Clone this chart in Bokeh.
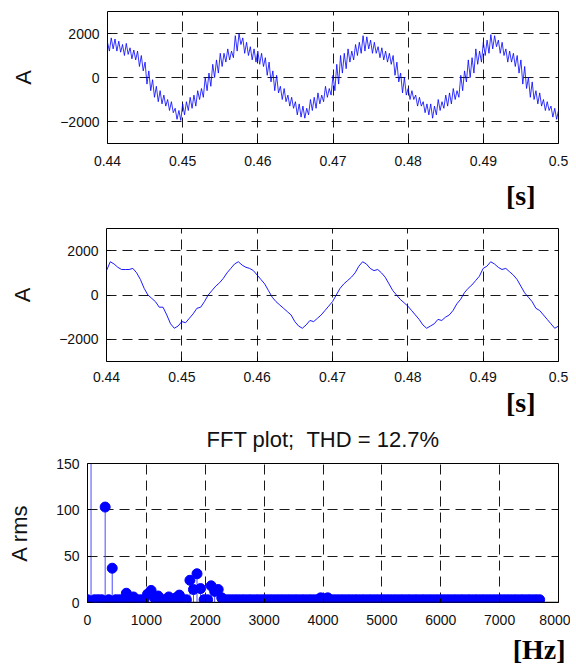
from bokeh.plotting import figure
from bokeh.models import Range1d, FixedTicker, Title, Span
from bokeh.layouts import column
from bokeh.embed import file_html
from bokeh.resources import INLINE

# ---------------- data ----------------
# unfiltered current, sampled every 0.25 ms from 0.44 s
t1_start, t1_step = 0.44, 0.00025
a1 = [
    1600, 1200, 1800, 1300, 1750, 1200, 1650, 1150, 1500, 1000, 1550, 1050,
    1350, 850, 1250, 800, 1200, 500, 1000, 300, 700, -300, 300, -600,
    -100, -900, -400, -1100, -600, -1200, -800, -1300, -1000, -1500, -1100, -1600,
    -1400, -1900, -1500, -1950, -1200, -1700, -1100, -1500, -900, -1400, -800, -1300,
    -600, -1000, -500, -900, 0, -600, 200, -400, 600, 0, 800, 200,
    1100, 500, 1100, 700, 1300, 800, 1200, 900, 1900, 1200, 2000, 1500,
    1800, 1100, 1600, 1000, 1400, 800, 1300, 700, 1200, 600, 1100, 500,
    900, 100, 700, -200, 300, -600, 100, -700, -400, -1000, -500, -1100,
    -800, -1300, -900, -1400, -1100, -1700, -1200, -1800, -1300, -1850, -1400, -1700,
    -1000, -1500, -900, -1400, -700, -1200, -800, -1100, -400, -900, -500, -800,
    100, -600, 600, -300, 1000, 200, 1100, 400, 1300, 700, 1200, 800,
    1500, 1000, 1600, 1100, 1900, 1200, 1850, 1300, 1700, 1100, 1600, 1100,
    1400, 900, 1350, 800, 1200, 700, 1100, 600, 1000, 100, 700, -200,
    200, -700, 0, -800, -500, -1000, -600, -1000, -800, -1300, -900, -1300,
    -1100, -1600, -1200, -1700, -1200, -1850, -1300, -1700, -1000, -1500, -1100, -1400,
    -800, -1300, -700, -1200, -500, -1000, -600, -900, 100, -600, 300, -200,
    800, 0, 900, 200, 1300, 600, 1200, 700, 1600, 1000, 1700, 1100,
    1950, 1300, 1900, 1400, 1700, 1100, 1600, 1000, 1300, 700, 1200, 700,
    1100, 500, 1000, 200, 800, -300, 500, -500, 0, -900, -200, -1000,
    -600, -1200, -700, -1300, -1000, -1500, -1100, -1500, -1300, -1800, -1400, -1900,
    -1500,
]
t1 = [t1_start + t1_step * k for k in range(len(a1))]

# filtered current, sampled every 0.5 ms from 0.44 s
t2_start, t2_step = 0.44, 0.0005
a2 = [
    1100, 1500, 1400, 1250, 1150, 1150, 1150, 1200, 1000, 700,
    300, 0, -150, -300, -550, -550, -900, -1300, -1500, -1400,
    -1200, -1250, -1050, -850, -600, -550, -300, 0, 200, 400,
    550, 750, 1000, 1200, 1400, 1500, 1350, 1250, 1200, 1100,
    900, 700, 500, 200, -100, -300, -450, -600, -750, -900,
    -1200, -1400, -1500, -1350, -1150, -1200, -1050, -900, -700, -500,
    -300, 0, 300, 500, 650, 800, 1000, 1300, 1500, 1400,
    1200, 1100, 1150, 1000, 800, 500, 200, 0, -200, -350,
    -500, -700, -900, -1100, -1350, -1500, -1400, -1300, -1100, -1150,
    -1000, -900, -700, -400, -200, 100, 300, 450, 650, 850,
    1200, 1300, 1500, 1400, 1250, 1150, 1200, 1050, 900, 700,
    400, 100, -100, -300, -600, -700, -900, -1100, -1300, -1500,
    -1400,
]
t2 = [t2_start + t2_step * k for k in range(len(a2))]

# FFT: harmonic bins of 60 Hz, amplitudes in A rms
f_step = 60
fft_amp = [
    3, 1060, 3, 3, 3, 103, 3, 37, 3, 3,
    3, 10, 3, 6, 3, 3, 3, 9, 13, 5,
    7, 3, 3, 6, 3, 5, 8, 3, 3, 24,
    14, 31, 15, 3, 3, 18, 12, 14, 5, 3,
    3, 3, 3, 3, 3, 3, 3, 3, 3, 3,
    3, 3, 3, 3, 3, 3, 3, 3, 3, 3,
    3, 3, 3, 3, 3, 3, 5, 4, 5, 3,
    3, 3, 3, 3, 3, 3, 3, 3, 3, 3,
    3, 3, 3, 3, 3, 3, 3, 3, 3, 3,
    3, 3, 3, 3, 3, 3, 3, 3, 3, 3,
    3, 3, 3, 3, 3, 3, 3, 3, 3, 3,
    3, 3, 3, 3, 3, 3, 3, 3, 3, 3,
    3, 3, 3, 3, 3, 3, 3, 3, 3,
]
fft_freq = [f_step * k for k in range(len(fft_amp))]

time_ticks = [0.44, 0.45, 0.46, 0.47, 0.48, 0.49, 0.5]
time_labels = ["0.44", "0.45", "0.46", "0.47", "0.48", "0.49", "0.5"]
amp_ticks = [-2000, 0, 2000]
freq_ticks = [0, 1000, 2000, 3000, 4000, 5000, 6000, 7000, 8000]
rms_ticks = [0, 50, 100, 150]

FONT = "Liberation Sans"
BLUE = "#0000ff"
W = 570


def style(p, xticks, yticks, ylabel, ylabel_standoff, xlabel_standoff=12):
    p.frame_align = False
    p.outline_line_color = "black"
    p.outline_line_width = 1
    p.background_fill_color = "white"
    p.border_fill_color = "white"
    xa = p.xaxis[0]
    ya = p.yaxis[0]
    xa.ticker = FixedTicker(ticks=xticks)
    ya.ticker = FixedTicker(ticks=yticks)
    p.xgrid[0].ticker = xa.ticker
    p.ygrid[0].ticker = ya.ticker
    for ax in (xa, ya):
        ax.major_tick_in = 4
        ax.major_tick_out = 0
        ax.minor_tick_in = 0
        ax.minor_tick_out = 0
        ax.axis_line_color = None
        ax.major_tick_line_color = "black"
        ax.major_label_text_font = FONT
        ax.major_label_text_font_size = "14px"
        ax.major_label_text_color = "#111111"
    xa.major_label_standoff = xlabel_standoff
    ya.major_label_standoff = 8
    ya.axis_label = ylabel
    ya.axis_label_text_font = FONT
    ya.axis_label_text_font_size = "22px"
    ya.axis_label_text_font_style = "normal"
    ya.axis_label_text_color = "#111111"
    ya.axis_label_standoff = ylabel_standoff
    for g in (p.xgrid[0], p.ygrid[0]):
        g.grid_line_color = "black"
        g.grid_line_dash = "10 6"
        g.grid_line_width = 1
        g.grid_line_alpha = 0.9


def unit_title(p, text, offset, standoff):
    t = Title(text=text, align="right", text_font="Liberation Serif",
              text_font_size="28px", text_font_style="bold",
              text_color="black", offset=offset, standoff=standoff,
              vertical_align="bottom")
    p.add_layout(t, "below")


# ---------------- figure 1 ----------------
p1 = figure(width=W, height=220, output_backend="svg", toolbar_location=None,
            x_range=Range1d(0.44, 0.5), y_range=Range1d(-3000, 3000),
            min_border_left=107, min_border_right=W - 558, min_border_top=11,
            min_border_bottom=77)
style(p1, time_ticks, amp_ticks, "A", 21)
p1.xaxis[0].major_label_overrides = dict(zip(time_ticks, time_labels))
p1.line(t1, a1, line_color=BLUE, line_width=0.8)
unit_title(p1, "[s]", 23, 19)

# ---------------- figure 2 ----------------
p2 = figure(width=W, height=197, output_backend="svg", toolbar_location=None,
            x_range=Range1d(0.44, 0.5), y_range=Range1d(-3000, 3000),
            min_border_left=106, min_border_right=W - 558, min_border_top=8,
            min_border_bottom=56)
style(p2, time_ticks, amp_ticks, "A", 21, xlabel_standoff=10)
p2.xaxis[0].major_label_overrides = dict(zip(time_ticks, time_labels))
p2.line(t2, a2, line_color=BLUE, line_width=0.9)
unit_title(p2, "[s]", 23, 0)

# ---------------- figure 3 ----------------
p3 = figure(width=W, height=252, output_backend="svg", toolbar_location=None,
            x_range=Range1d(0, 8000), y_range=Range1d(0, 150),
            min_border_left=87, min_border_right=W - 558, min_border_top=46,
            min_border_bottom=67, title="FFT plot; \u00a0THD = 12.7%")
p3.title.align = "center"
p3.title.vertical_align = "top"
p3.title.text_font = FONT
p3.title.text_font_size = "22px"
p3.title.text_font_style = "normal"
p3.title.text_color = "#111111"
p3.title.standoff = 19
style(p3, freq_ticks, rms_ticks, "A rms", 21)
p3.xaxis[0].formatter.use_scientific = False
p3.segment(x0=fft_freq, y0=[0] * len(fft_freq), x1=fft_freq, y1=fft_amp,
           line_color="#4a4aff", line_width=1)
p3.scatter(fft_freq, fft_amp, marker="circle", size=10, fill_color=BLUE,
           line_color=BLUE)
p3.add_layout(Span(location=0, dimension="width", line_color="black",
                   line_width=1.5))
unit_title(p3, "[Hz]", -7, 9)

layout = column(p1, p2, p3)
open("out.html", "w").write(file_html(layout, INLINE))
